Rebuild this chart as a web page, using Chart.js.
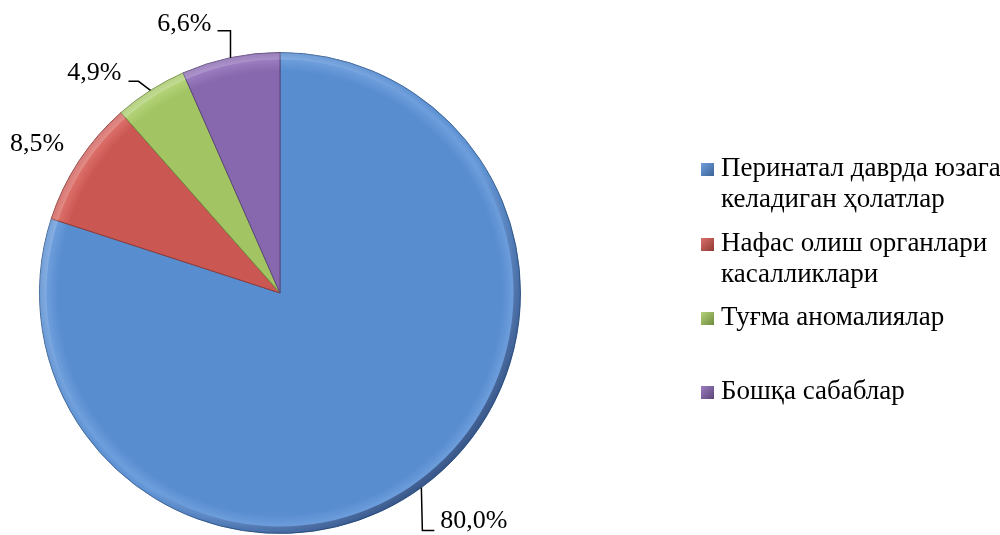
<!DOCTYPE html>
<html>
<head>
<meta charset="utf-8">
<script src="https://cdn.jsdelivr.net/npm/chart.js@4"></script>
<style>
  html, body { margin: 0; padding: 0; background: #fff; }
  #wrap { width: 1000px; height: 535px; position: relative; }
</style>
</head>
<body>
<div id="wrap"><canvas id="pieChart"></canvas></div>
<script>
const categories = [
    'Перинатал даврда юзага келадиган ҳолатлар',
    'Нафас олиш органлари касалликлари',
    'Туғма аномалиялар',
    'Бошқа сабаблар'
];
const legendLines = [
    ['Перинатал даврда юзага', 'келадиган ҳолатлар'],
    ['Нафас олиш органлари', 'касалликлари'],
    ['Туғма аномалиялар'],
    ['Бошқа сабаблар']
];
const shares = [80.0, 8.5, 4.9, 6.6];

const baseColors = ['#588DD0', '#CB5753', '#A2C462', '#8767AD'];
const rimColors = ['#6E9EDC', '#DC6F69', '#B4D379', '#9B7DC0'];
const edgeColors = ['#3C6497', '#8E3A37', '#6F8A3E', '#5B4679'];

const FONT = '"Liberation Serif", "Times New Roman", serif';

// label placement relative to the outer edge point at the middle of each slice
const labelPlace = [
    { text: [19, 34], align: 'left', leader: [[1, 43], [13, 43]] },
    { text: [-42, -17], align: 'center', leader: null },
    { text: [-29, -17], align: 'right', leader: [[-12, -9], [-22, -9]] },
    { text: [-19, -33], align: 'right', leader: [[0, -27], [-13, -27]] }
];

// legend rows: y of first line
const legendY = [169, 244, 318, 392];

function fmt(v) {
    return v.toFixed(1).replace('.', ',') + '%';
}

function fillFor(context) {
    const chart = context.chart;
    const area = chart.chartArea;
    const i = context.dataIndex;
    if (!area) return baseColors[i];
    const cx = (area.left + area.right) / 2;
    const cy = (area.top + area.bottom) / 2;
    const r = Math.min(area.width, area.height) / 2;
    const g = chart.ctx.createRadialGradient(cx, cy, 0, cx, cy, r);
    g.addColorStop(0, baseColors[i]);
    g.addColorStop(0.92, baseColors[i]);
    g.addColorStop(0.97, rimColors[i]);
    g.addColorStop(1, baseColors[i]);
    return g;
}

// bevel light: lighter rim top-left, shadowed rim bottom-right
const bevelPlugin = {
    id: 'bevelPlugin',
    afterDatasetsDraw(chart) {
        const arc = chart.getDatasetMeta(0).data[0];
        if (!arc) return;
        const p = arc.getProps(['x', 'y', 'outerRadius'], true);
        const ctx = chart.ctx;
        const r = p.outerRadius;
        ctx.save();
        const g = ctx.createLinearGradient(p.x - r * 0.7, p.y - r * 0.7, p.x + r * 0.7, p.y + r * 0.7);
        g.addColorStop(0, 'rgba(255,255,255,0.2)');
        g.addColorStop(0.45, 'rgba(255,255,255,0)');
        g.addColorStop(0.6, 'rgba(0,0,30,0)');
        g.addColorStop(1, 'rgba(0,0,30,0.4)');
        ctx.beginPath();
        ctx.arc(p.x, p.y, r, 0, Math.PI * 2);
        ctx.arc(p.x, p.y, r - 7, 0, Math.PI * 2, true);
        ctx.fillStyle = g;
        ctx.fill();
        ctx.restore();
    }
};

const labelPlugin = {
    id: 'labelPlugin',
    afterDatasetsDraw(chart) {
        const ctx = chart.ctx;
        const meta = chart.getDatasetMeta(0);
        ctx.save();
        ctx.font = '26px ' + FONT;
        ctx.fillStyle = '#000';
        ctx.strokeStyle = '#000';
        ctx.lineWidth = 1.5;
        ctx.textBaseline = 'middle';
        meta.data.forEach(function(arc, i) {
            const p = arc.getProps(['x', 'y', 'startAngle', 'endAngle', 'outerRadius'], true);
            const mid = (p.startAngle + p.endAngle) / 2;
            const ex = p.x + Math.cos(mid) * p.outerRadius;
            const ey = p.y + Math.sin(mid) * p.outerRadius;
            const place = labelPlace[i];
            if (place.leader) {
                ctx.beginPath();
                ctx.moveTo(ex, ey);
                place.leader.forEach(function(pt) {
                    ctx.lineTo(ex + pt[0], ey + pt[1]);
                });
                ctx.stroke();
            }
            ctx.textAlign = place.align;
            ctx.fillText(fmt(shares[i]), ex + place.text[0], ey + place.text[1]);
        });
        ctx.restore();
    }
};

const legendPlugin = {
    id: 'legendPlugin',
    afterDraw(chart) {
        const ctx = chart.ctx;
        ctx.save();
        ctx.font = '27px ' + FONT;
        ctx.textBaseline = 'middle';
        ctx.textAlign = 'left';
        legendLines.forEach(function(lines, i) {
            const y = legendY[i];
            const g = ctx.createLinearGradient(701, y - 6, 714, y + 7);
            g.addColorStop(0, rimColors[i]);
            g.addColorStop(1, edgeColors[i]);
            ctx.fillStyle = g;
            ctx.fillRect(701, y - 6, 13, 13);
            ctx.fillStyle = '#000';
            lines.forEach(function(line, j) {
                ctx.fillText(line, 721, y + j * 31);
            });
        });
        ctx.restore();
    }
};

const ctxPie = document.getElementById('pieChart').getContext('2d');

new Chart(ctxPie, {
    type: 'pie',
    data: {
        labels: categories,
        datasets: [{
            data: shares,
            backgroundColor: fillFor,
            borderColor: edgeColors,
            borderWidth: 1,
        }]
    },
    options: {
        responsive: true,
        maintainAspectRatio: false,
        animation: false,
        layout: {
            padding: { left: 39, right: 479, top: 52, bottom: 1 }
        },
        plugins: {
            legend: { display: false },
            tooltip: { enabled: false },
        },
    },
    plugins: [bevelPlugin, labelPlugin, legendPlugin],
});
</script>
</body>
</html>
